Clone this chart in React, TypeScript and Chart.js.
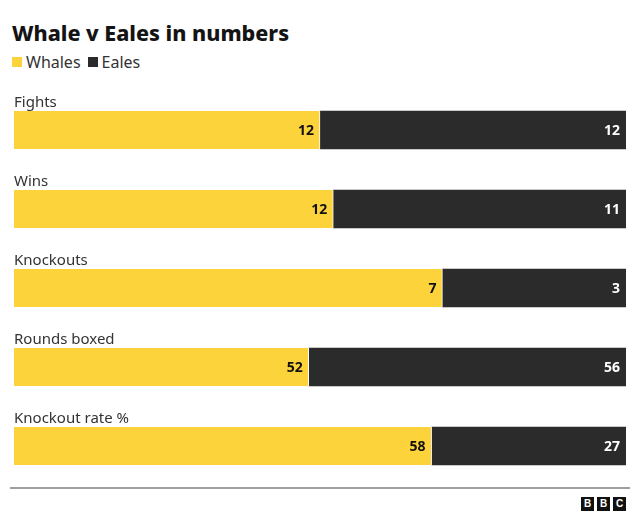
import React, { useEffect, useRef } from "react";
import { Chart, registerables } from "chart.js";

Chart.register(...registerables);

const categories = ["Fights", "Wins", "Knockouts", "Rounds boxed", "Knockout rate %"];
const whales = [12, 12, 7, 52, 58];
const eales = [12, 11, 3, 56, 27];
const seriesNames = ["Whales", "Eales"];
const colors = ["#fdd33b", "#2b2b2b"];

const FONT = "'Noto Sans', 'Open Sans', sans-serif";

const whalesPct = whales.map((w, i) => (w / (w + eales[i])) * 100);
const ealesPct = eales.map((e, i) => (e / (whales[i] + e)) * 100);

const labelPlugin = {
  id: "labels",
  afterDatasetsDraw(chart: any) {
    const ctx = chart.ctx;
    ctx.save();
    const raw = [whales, eales];
    chart.data.datasets.forEach((ds: any, di: number) => {
      const meta = chart.getDatasetMeta(di);
      meta.data.forEach((bar: any, i: number) => {
        ctx.font = `bold 14px ${FONT}`;
        ctx.fillStyle = di === 0 ? "#111" : "#fff";
        ctx.textAlign = "right";
        ctx.textBaseline = "middle";
        ctx.fillText(String(raw[di][i]), bar.x - 6, bar.y + 1);
        if (di === 0) {
          ctx.font = `15px ${FONT}`;
          ctx.fillStyle = "#333";
          ctx.textAlign = "left";
          ctx.textBaseline = "alphabetic";
          ctx.fillText(categories[i], 14, bar.y - bar.height / 2 - 4);
        }
      });
    });
    ctx.restore();
  },
};

export default function App() {
  const ref = useRef<HTMLCanvasElement>(null);
  useEffect(() => {
    const chart = new Chart(ref.current!, {
      type: "bar",
      data: {
        labels: categories,
        datasets: [
          {
            label: seriesNames[0],
            data: whalesPct,
            backgroundColor: colors[0],
            borderColor: "#ffffff",
            borderWidth: { right: 1, left: 0, top: 0, bottom: 0 },
            borderSkipped: false,
            barThickness: 38,
          },
          {
            label: seriesNames[1],
            data: ealesPct,
            backgroundColor: colors[1],
            borderWidth: 0,
            barThickness: 38,
          },
        ],
      },
      options: {
        indexAxis: "y",
        animation: false,
        responsive: false,
        maintainAspectRatio: false,
        layout: { padding: { left: 14, right: 14, top: 0.5, bottom: 0.5 } },
        scales: {
          x: { stacked: true, min: 0, max: 100, display: false },
          y: { stacked: true, display: false },
        },
        plugins: { legend: { display: false }, tooltip: { enabled: false } },
      },
      plugins: [labelPlugin],
    });
    return () => chart.destroy();
  }, []);

  return (
    <div style={{ position: "relative", width: 624, height: 513, fontFamily: FONT }}>
      <div
        style={{
          position: "absolute",
          left: 4,
          top: 13,
          fontSize: 21.5,
          fontWeight: 800,
          color: "#141414",
          lineHeight: "24px",
          letterSpacing: 0,
        }}
      >
        Whale v Eales in numbers
      </div>
      <div
        style={{
          position: "absolute",
          left: 4,
          top: 44,
          fontSize: 16,
          color: "#333",
          lineHeight: "20px",
          display: "flex",
          alignItems: "center",
        }}
      >
        <span style={{ display: "inline-block", width: 10, height: 10, background: colors[0], marginRight: 4 }} />
        <span>{seriesNames[0]}</span>
        <span style={{ display: "inline-block", width: 10, height: 10, background: colors[1], marginLeft: 7, marginRight: 4 }} />
        <span>{seriesNames[1]}</span>
      </div>
      <canvas
        ref={ref}
        width={640}
        height={396}
        style={{ position: "absolute", left: -8, top: 82, width: 640, height: 396 }}
      />
      <div
        style={{
          position: "absolute",
          left: 2,
          top: 479,
          width: 620,
          height: 2,
          background: "#a0a0a0",
        }}
      />
      <div style={{ position: "absolute", left: 573, top: 489, display: "flex", gap: 3 }}>
        {["B", "B", "C"].map((l, i) => (
          <span
            key={i}
            style={{
              width: 13,
              height: 14,
              background: "#111",
              color: "#fff",
              fontSize: 10,
              fontWeight: 700,
              lineHeight: "14px",
              textAlign: "center",
              fontFamily: "Arial, 'Liberation Sans', sans-serif",
            }}
          >
            {l}
          </span>
        ))}
      </div>
    </div>
  );
}
